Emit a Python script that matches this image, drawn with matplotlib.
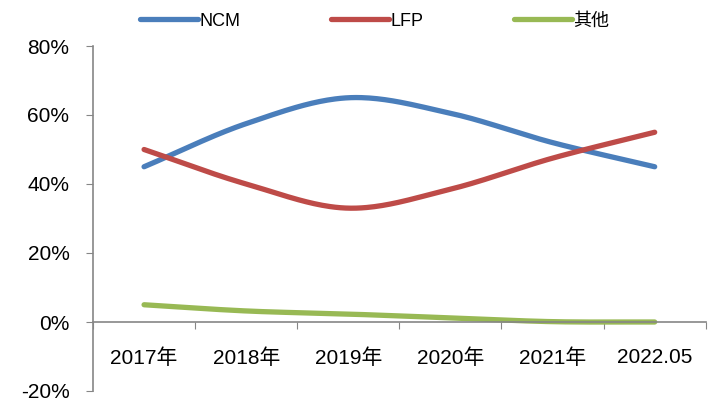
import numpy as np
import matplotlib.pyplot as plt
from matplotlib.ticker import FuncFormatter

# 电池装机结构占比
years = ["2017年", "2018年", "2019年", "2020年", "2021年", "2022.05"]
ncm = [45, 57.5, 65, 60.5, 52, 45]
lfp = [50, 40, 33, 38.5, 47.5, 55]
other = [5, 3.2, 2.3, 1.2, 0.1, 0]

series = [("NCM", ncm, "#4A7EBB"), ("LFP", lfp, "#BE4B48"), ("其他", other, "#98B954")]

plt.rcParams['font.family'] = ['Liberation Sans Narrow', 'Liberation Sans', 'Noto Sans CJK SC']


def smooth(y, n=40):
    # Catmull-Rom 平滑曲线
    y = np.asarray(y, dtype=float) / 100
    x = np.arange(len(y), dtype=float)
    px = np.concatenate([[2 * x[0] - x[1]], x, [2 * x[-1] - x[-2]]])
    py = np.concatenate([[2 * y[0] - y[1]], y, [2 * y[-1] - y[-2]]])
    xs, ys = [], []
    for i in range(1, len(px) - 2):
        t = np.linspace(0, 1, n)
        for arr, out in ((px, xs), (py, ys)):
            p0, p1, p2, p3 = arr[i - 1:i + 3]
            out.extend(0.5 * ((2 * p1) + (-p0 + p2) * t
                              + (2 * p0 - 5 * p1 + 4 * p2 - p3) * t ** 2
                              + (-p0 + 3 * p1 - 3 * p2 + p3) * t ** 3))
    return np.array(xs), np.array(ys)


fig = plt.figure(figsize=(7.1, 4.0), dpi=100)
ax = fig.add_axes([0.131, 0.0225, 0.863, 0.8625])

for name, vals, color in series:
    sx, sy = smooth(vals)
    ax.plot(sx, sy, color=color, lw=3.8, solid_capstyle='round', label=name)

ax.set_xlim(-0.5, len(years) - 0.5)
ax.set_ylim(-0.2, 0.8)
ax.set_yticks(np.arange(-0.2, 0.81, 0.2))
ax.yaxis.set_major_formatter(FuncFormatter(lambda v, _: f"{v * 100:.0f}%"))

ax.set_xticks(np.arange(-0.5, len(years), 1.0))
ax.set_xticklabels([])
ax.set_xticks(np.arange(len(years)), minor=True)
ax.set_xticklabels(years, minor=True)
ax.tick_params(axis='x', which='major', length=5, color='#868686', direction='out')
ax.tick_params(axis='x', which='minor', length=0, pad=19, labelsize=15)
ax.tick_params(axis='y', length=5, color='#868686', labelsize=15, pad=12)

for s in ['top', 'right']:
    ax.spines[s].set_visible(False)
ax.spines['bottom'].set_position(('data', 0))
for s in ['left', 'bottom']:
    ax.spines[s].set_color('#868686')
    ax.spines[s].set_linewidth(1.2)

ax.legend(loc='lower center', bbox_to_anchor=(0.46, 1.0), ncol=3, frameon=False,
          fontsize=13, handlelength=3.2, handletextpad=0.1, columnspacing=5.0,
          borderaxespad=0.5)

fig.savefig("out.png", dpi=100)
